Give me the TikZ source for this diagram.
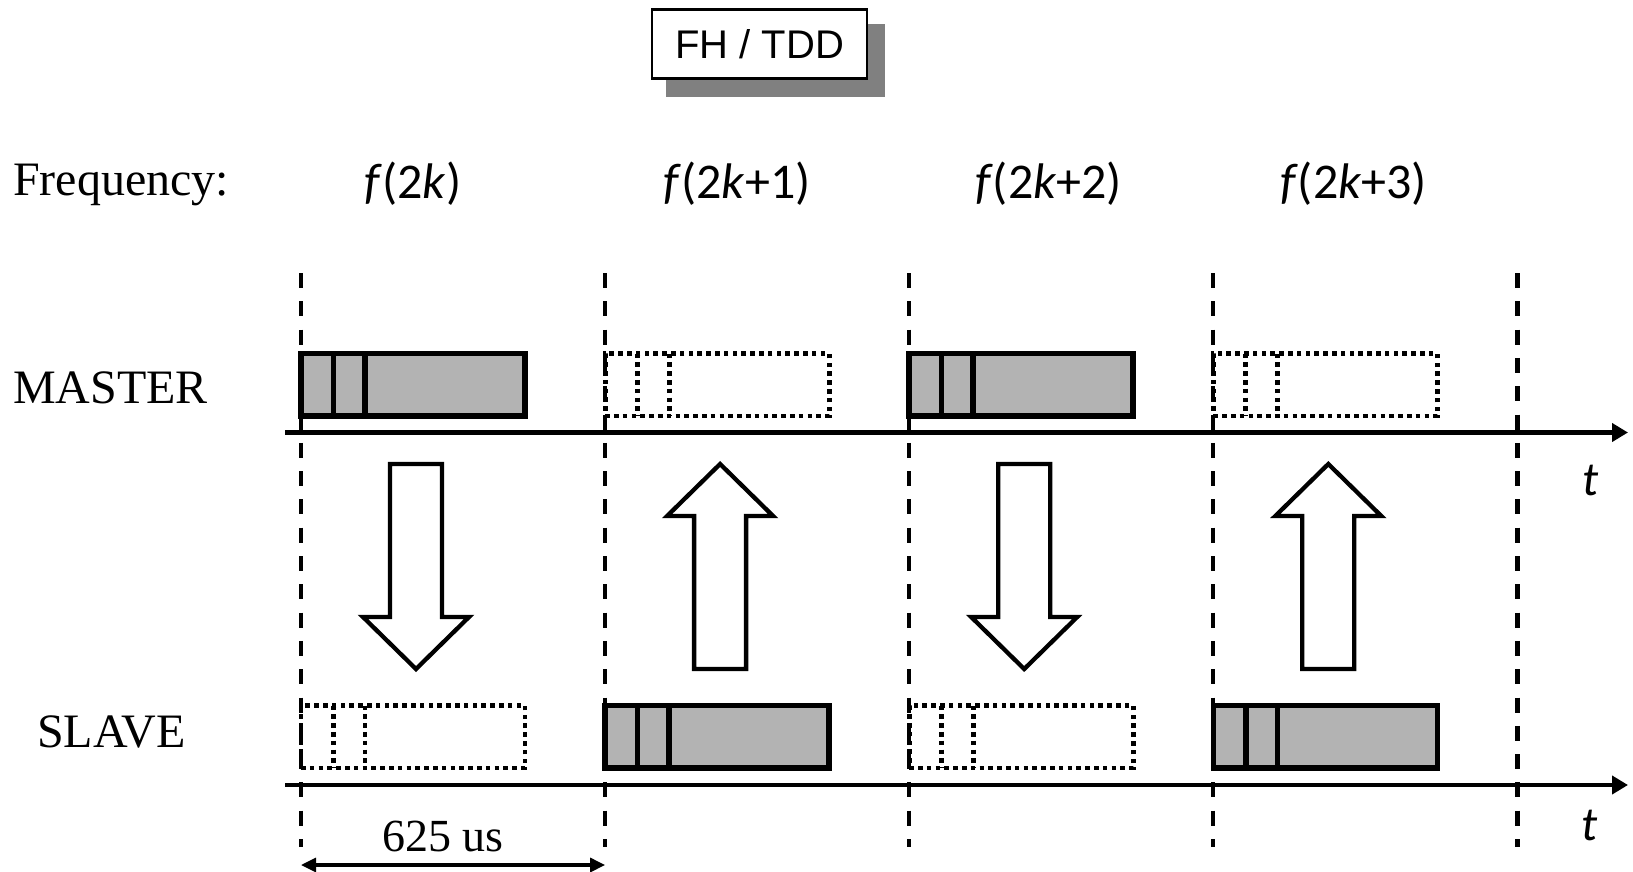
\documentclass[tikz,border=0pt]{standalone}
\usepackage{fontspec}
\setmainfont{Liberation Serif}
\newfontfamily\titlefont{Liberation Sans}
\newfontfamily\freqfont{Carlito}
\usetikzlibrary{arrows.meta,calc}
\definecolor{slotgray}{HTML}{B3B3B3}
\definecolor{shadowgray}{HTML}{808080}
\tikzset{
  slotline/.style={line width=4.2pt, dash pattern=on 15pt off 13.3pt},
  axisline/.style={line width=4.8pt, -{Triangle[length=16pt,width=18pt]}},
  txbox/.style={draw, line width=5.5pt, fill=slotgray, inner sep=0pt, outer sep=0pt,
    minimum width=224pt, minimum height=62.5pt, anchor=north west},
  rxbox/.style={draw, line width=4.8pt, dash pattern=on 4.6pt off 4.2pt, inner sep=0pt, outer sep=0pt,
    minimum width=224pt, minimum height=62.5pt, anchor=north west},
  txdiv/.style={line width=5.5pt},
  rxdiv/.style={line width=4.8pt, dash pattern=on 4.6pt off 4.2pt},
  blockarrow/.style={draw, line width=4.3pt, fill=white, line join=miter},
  rowlabel/.style={inner sep=0pt, anchor=base west, font=\fontsize{48}{57}\selectfont},
  freqlabel/.style={inner sep=0pt, anchor=base west, font=\freqfont\fontsize{50}{60}\selectfont},
  tlabel/.style={inner sep=0pt, font=\freqfont\itshape\fontsize{48}{58}\selectfont},
  titlebox/.style={draw, line width=2.5pt, fill=white, inner sep=0pt,
    minimum width=215pt, minimum height=69pt, text height=28.5pt, text depth=0pt,
    font=\titlefont\fontsize{40}{48}\selectfont},
}
\begin{document}
\begin{tikzpicture}[x=1pt,y=-1pt]
  \useasboundingbox (0,0) rectangle (1633,872);

  % title with drop shadow
  \fill[shadowgray] (666,24) rectangle (885,96.7);
  \node[titlebox] (title) at (759.5,44.2) {FH / TDD};

  % frequency row
  \node[rowlabel] (freq) at (13,195) {Frequency:};
  \node[freqlabel] (f0) at (364.5,198) {\textit{f}(2\textit{k})};
  \node[freqlabel] (f1) at (663.5,198) {\textit{f}(2\textit{k}+1)};
  \node[freqlabel] (f2) at (975,198) {\textit{f}(2\textit{k}+2)};
  \node[freqlabel] (f3) at (1280,198) {\textit{f}(2\textit{k}+3)};

  % row labels
  \node[rowlabel] (master) at (13,403) {MASTER};
  \node[rowlabel] (slave) at (37,747) {SLAVE};

  % slot boundaries
  \foreach \i in {0,...,4} {
    \coordinate (vt\i) at ({301+304.1*\i},273);
    \coordinate (vb\i) at ({301+304.1*\i},847);
    \draw[slotline] (vt\i) -- (vb\i);
  }

  % master / slave slots: shaded = transmitting, dotted = idle
  \foreach \i in {0,...,3} {
    \pgfmathsetmacro{\xl}{301+304.1*\i}
    \pgfmathtruncatemacro{\odd}{mod(\i,2)}
    \ifnum\odd=0
      \node[txbox] (m\i) at (\xl,353.5) {};
      \draw[txdiv] ($(m\i.north west)+(32.5,0)$) -- ($(m\i.south west)+(32.5,0)$);
      \draw[txdiv] ($(m\i.north west)+(64,0)$) -- ($(m\i.south west)+(64,0)$);
      \node[rxbox] (s\i) at (\xl,705.5) {};
      \draw[rxdiv] ($(s\i.north west)+(32.5,0)$) -- ($(s\i.south west)+(32.5,0)$);
      \draw[rxdiv] ($(s\i.north west)+(64,0)$) -- ($(s\i.south west)+(64,0)$);
    \else
      \node[rxbox] (m\i) at (\xl,353.5) {};
      \draw[rxdiv] ($(m\i.north west)+(32.5,0)$) -- ($(m\i.south west)+(32.5,0)$);
      \draw[rxdiv] ($(m\i.north west)+(64,0)$) -- ($(m\i.south west)+(64,0)$);
      \node[txbox] (s\i) at (\xl,705.5) {};
      \draw[txdiv] ($(s\i.north west)+(32.5,0)$) -- ($(s\i.south west)+(32.5,0)$);
      \draw[txdiv] ($(s\i.north west)+(64,0)$) -- ($(s\i.south west)+(64,0)$);
    \fi
  }

  % time axes
  \coordinate (ma0) at (285,432.5);
  \coordinate (ma1) at (1628,432.5);
  \coordinate (sa0) at (285,785);
  \coordinate (sa1) at (1628,785);
  \draw[axisline] (ma0) -- (ma1);
  \draw[axisline] (sa0) -- (sa1);
  \node[tlabel] (tm) at (1591,480) {t};
  \node[tlabel] (ts) at (1590,825) {t};

  % block arrows: master -> slave (down) and slave -> master (up)
  \foreach \i in {0,2} {
    \pgfmathsetmacro{\c}{416+304.1*\i}
    \draw[blockarrow] (\c-26,464) -- (\c+26,464) -- (\c+26,617) -- (\c+53,617)
      -- (\c,669) -- (\c-53,617) -- (\c-26,617) -- cycle;
  }
  \foreach \i in {1,3} {
    \pgfmathsetmacro{\c}{416+304.1*\i}
    \draw[blockarrow] (\c,464) -- (\c+53,516) -- (\c+26,516) -- (\c+26,669)
      -- (\c-26,669) -- (\c-26,516) -- (\c-53,516) -- cycle;
  }

  % slot duration
  \coordinate (d0) at (301,865);
  \coordinate (d1) at (605.1,865);
  \draw[line width=3.2pt, {Triangle[length=15pt,width=14pt]}-{Triangle[length=15pt,width=14pt]}] (d0) -- (d1);
  \node[inner sep=0pt, anchor=base, font=\fontsize{46}{55}\selectfont] (dur) at (443,851) {625 us};
\end{tikzpicture}
\end{document}
